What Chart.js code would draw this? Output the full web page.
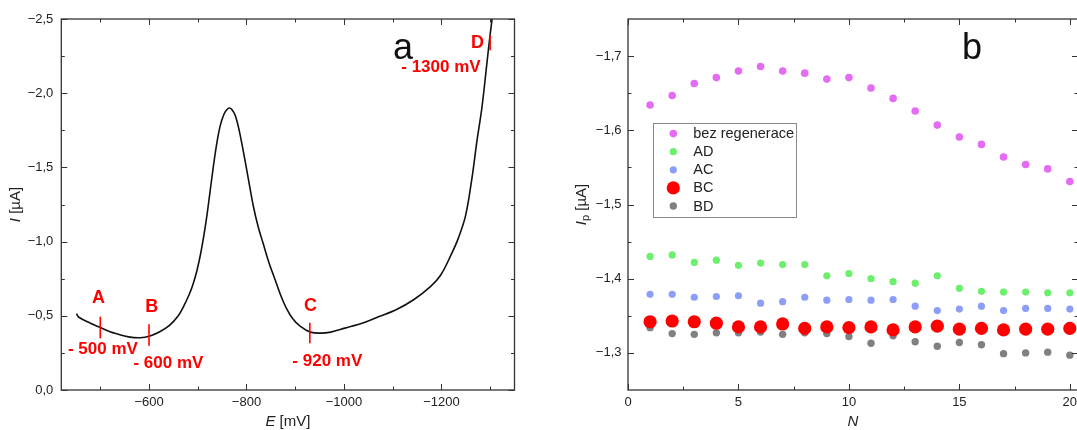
<!DOCTYPE html>
<html><head><meta charset="utf-8">
<script src="https://cdn.jsdelivr.net/npm/chart.js@4.4.1/dist/chart.umd.min.js"></script>
<style>
html,body{margin:0;padding:0;background:#fff;overflow:hidden;width:1077px;height:430px;position:relative;}
#ca{position:absolute;left:0;top:0;}
#cb{position:absolute;left:540px;top:0;}
</style></head><body>
<canvas id="ca" width="540" height="430" style="width:540px;height:430px"></canvas>
<canvas id="cb" width="560" height="430" style="width:560px;height:430px"></canvas>
<script>
// ---------- panel a : voltammogram ----------
const potentialMV = [-451,-456,-480,-500,-530,-558,-582,-602,-622,-642,-660,-672,-682,-690,-698,-706,-713,-719,-725,-731,-738,-746,-754,-760,-765,-770,-777,-785,-794,-804,-814,-824,-834,-846,-858,-870,-882,-895,-910,-931,-952,-973,-1002,-1037,-1072,-1107,-1143,-1178,-1199,-1220,-1235,-1250,-1263,-1273,-1283,-1291,-1298,-1304];
const currentUA   = [-0.515,-0.49,-0.45,-0.421,-0.382,-0.358,-0.352,-0.364,-0.392,-0.435,-0.50,-0.57,-0.64,-0.71,-0.80,-0.92,-1.05,-1.18,-1.33,-1.48,-1.64,-1.78,-1.86,-1.89,-1.90,-1.89,-1.85,-1.75,-1.60,-1.42,-1.24,-1.10,-0.99,-0.86,-0.75,-0.64,-0.55,-0.48,-0.43,-0.39,-0.383,-0.39,-0.417,-0.45,-0.495,-0.541,-0.608,-0.698,-0.777,-0.912,-1.025,-1.18,-1.435,-1.68,-1.90,-2.13,-2.34,-2.50];
const aXTicks = [-600,-800,-1000,-1200];
const aXTickLabels = ['\u2212600','\u2212800','\u22121000','\u22121200'];
const aXMinor = [-500,-700,-900,-1100,-1300];
const aYTicks = [-2.5,-2.0,-1.5,-1.0,-0.5,0];
const aYTickLabels = ['\u22122,5','\u22122,0','\u22121,5','\u22121,0','\u22120,5','0,0'];
const aYMinor = [-2.25,-1.75,-1.25,-0.75,-0.25];
const markLetters = ['A','B','C','D'];
const markPotentials = [-500,-600,-930,-1300];
const markCurrents = [-0.421,-0.371,-0.384,-2.34];
const markTexts = ['- 500 mV','- 600 mV','- 920 mV','- 1300 mV'];

// ---------- panel b : peak currents vs N ----------
const cycles = [1,2,3,4,5,6,7,8,9,10,11,12,13,14,15,16,17,18,19,20];
const seriesNames = ['bez regenerace','AD','AC','BC','BD'];
const bezRegenerace = [-1.634,-1.647,-1.663,-1.671,-1.680,-1.686,-1.680,-1.677,-1.669,-1.671,-1.657,-1.643,-1.626,-1.607,-1.591,-1.581,-1.564,-1.554,-1.548,-1.531];
const seriesAD = [-1.430,-1.432,-1.422,-1.425,-1.418,-1.421,-1.419,-1.419,-1.404,-1.407,-1.400,-1.396,-1.394,-1.404,-1.387,-1.383,-1.382,-1.382,-1.381,-1.381];
const seriesAC = [-1.379,-1.379,-1.375,-1.376,-1.377,-1.367,-1.369,-1.375,-1.371,-1.372,-1.371,-1.372,-1.363,-1.357,-1.359,-1.363,-1.357,-1.360,-1.360,-1.359];
const seriesBC = [-1.342,-1.343,-1.342,-1.340,-1.335,-1.335,-1.339,-1.333,-1.335,-1.334,-1.335,-1.331,-1.335,-1.336,-1.332,-1.333,-1.331,-1.332,-1.332,-1.333];
const seriesBD = [-1.334,-1.326,-1.325,-1.327,-1.327,-1.328,-1.325,-1.327,-1.326,-1.322,-1.313,-1.323,-1.315,-1.309,-1.314,-1.311,-1.299,-1.300,-1.301,-1.297];
const bXTicks = [0,5,10,15,20];
const bXTickLabels = ['0','5','10','15','20'];
const bXMinor = [2.5,7.5,12.5,17.5];
const bYTicks = [-1.7,-1.6,-1.5,-1.4,-1.3];
const bYTickLabels = ['\u22121,7','\u22121,6','\u22121,5','\u22121,4','\u22121,3'];
const bYMinor = [-1.65,-1.55,-1.45,-1.35];

// ---------- helpers ----------
const FAM = '"Liberation Sans", Arial, Helvetica, sans-serif';
const INK = '#222';
function drawRich(ctx, parts, cx, cy, rotate) {
  ctx.save();
  ctx.translate(cx, cy);
  if (rotate) ctx.rotate(-Math.PI / 2);
  let w = 0;
  parts.forEach(p => { ctx.font = p.font; p.w = ctx.measureText(p.t).width; w += p.w; });
  let x = -w / 2;
  ctx.textBaseline = 'middle'; ctx.textAlign = 'left'; ctx.fillStyle = INK;
  parts.forEach(p => { ctx.font = p.font; ctx.fillText(p.t, x, p.dy || 0); x += p.w; });
  ctx.restore();
}
function frameAndTicks(chart, xMaj, xMin, yMaj, yMin) {
  const {ctx, chartArea: a, scales: {x, y}} = chart;
  ctx.save();
  ctx.strokeStyle = '#333';
  const seg = (x1, y1, x2, y2) => { ctx.beginPath(); ctx.moveTo(x1, y1); ctx.lineTo(x2, y2); ctx.stroke(); };
  ctx.lineWidth = 1;
  const xt = (vals, len) => vals.forEach(v => { const p = Math.round(x.getPixelForValue(v)) + 0.5; seg(p, a.bottom, p, a.bottom - len); seg(p, a.top, p, a.top + len); });
  const yt = (vals, len) => vals.forEach(v => { const p = Math.round(y.getPixelForValue(v)) + 0.5; seg(a.left, p, a.left + len, p); seg(a.right, p, a.right - len, p); });
  xt(xMaj, 6); xt(xMin, 3.5); yt(yMaj, 6); yt(yMin, 3.5);
  ctx.lineWidth = 1.3;
  ctx.strokeRect(a.left, a.top, a.right - a.left, a.bottom - a.top);
  ctx.restore();
}
function tickCfg(vals, labels, pad) {
  return {
    afterBuildTicks: s => { s.ticks = vals.map(v => ({value: v})); },
    ticks: {font: {family: FAM, size: 13}, color: INK, padding: pad, autoSkip: false, maxRotation: 0,
            callback: (v, i) => labels[i]},
    grid: {display: false, drawTicks: false}, border: {display: false}
  };
}

// ---------- chart a ----------
const plugA = {
  id: 'decorA',
  afterDatasetsDraw(chart) {
    frameAndTicks(chart, aXTicks, aXMinor, aYTicks, aYMinor);
    const {ctx, scales: {x, y}} = chart;
    ctx.save();
    const off = [
      {half: 10.8, lx: -1.7, ly: -29.2, tx: 2.6, ty: 21.5},
      {half: 10.7, lx: 2.7, ly: -28.3, tx: 19.4, ty: 28.3},
      {half: 10.3, lx: 0.7, ly: -27.3, tx: 17.5, ty: 28.7},
      {half: 7.5, lx: -12.7, ly: 0, tx: -49.2, ty: 24.8}
    ];
    ctx.strokeStyle = '#ff0000'; ctx.fillStyle = '#ff0000'; ctx.lineWidth = 1.6;
    ctx.textAlign = 'center'; ctx.textBaseline = 'middle';
    markPotentials.forEach((e, k) => {
      const px = x.getPixelForValue(e), py = y.getPixelForValue(markCurrents[k]);
      const o = off[k];
      ctx.beginPath(); ctx.moveTo(px, py - o.half); ctx.lineTo(px, py + o.half); ctx.stroke();
      ctx.font = 'bold 18px ' + FAM; ctx.fillText(markLetters[k], px + o.lx, py + o.ly);
      ctx.font = 'bold 17px ' + FAM; ctx.fillText(markTexts[k], px + o.tx, py + o.ty);
    });
    ctx.restore();
    ctx.save(); ctx.fillStyle = '#111'; ctx.font = '36px ' + FAM; ctx.textAlign = 'center'; ctx.textBaseline = 'alphabetic';
    ctx.fillText('a', 403, 59); ctx.restore();
    const a = chart.chartArea;
    drawRich(ctx, [{t: 'E', font: 'italic 15px ' + FAM}, {t: ' [mV]', font: '15px ' + FAM}], (a.left + a.right) / 2, 422, false);
    drawRich(ctx, [{t: 'I', font: 'italic 15px ' + FAM}, {t: ' [\u00b5A]', font: '15px ' + FAM}], 16, (a.top + a.bottom) / 2, true);
  }
};
new Chart(document.getElementById('ca'), {
  type: 'line',
  data: {datasets: [{
    data: potentialMV.map((e, i) => ({x: e, y: currentUA[i]})),
    borderColor: '#111', borderWidth: 1.6, pointRadius: 0, tension: 0.35, fill: false
  }]},
  options: {
    responsive: false, animation: false, events: [],
    layout: {padding: {left: 0, top: 19, right: 25.5, bottom: 0}},
    plugins: {legend: {display: false}, tooltip: {enabled: false}},
    scales: {
      x: Object.assign({type: 'linear', reverse: true, min: -1350, max: -420, afterFit: s => { s.height = 40; }}, tickCfg(aXTicks, aXTickLabels, 5)),
      y: Object.assign({type: 'linear', reverse: true, min: -2.5, max: 0, afterFit: s => { s.width = 61.3; }}, tickCfg(aYTicks, aYTickLabels, 8))
    }
  },
  plugins: [plugA]
});

// ---------- chart b ----------
const colorsB = ['#e46cf5', '#6cef6c', '#8c9ef9', '#ff0000', '#808080'];
const radiiB = [3.8, 3.6, 3.6, 6.6, 3.7];
const valuesB = [bezRegenerace, seriesAD, seriesAC, seriesBC, seriesBD];
const plugB = {
  id: 'decorB',
  afterDatasetsDraw(chart) {
    frameAndTicks(chart, bXTicks, bXMinor, bYTicks, bYMinor);
    const {ctx} = chart;
    ctx.save();
    ctx.fillStyle = '#fff'; ctx.strokeStyle = '#8a8a8a'; ctx.lineWidth = 1;
    ctx.fillRect(113.5, 123.5, 143, 94); ctx.strokeRect(113.5, 123.5, 143, 94);
    chart.data.datasets.forEach((ds, k) => {
      const cy = 133.6 + k * 18.1;
      ctx.fillStyle = ds.backgroundColor;
      ctx.beginPath(); ctx.arc(133.3, cy, ds.pointRadius, 0, Math.PI * 2); ctx.fill();
      ctx.fillStyle = INK; ctx.font = '14.5px ' + FAM; ctx.textAlign = 'left'; ctx.textBaseline = 'middle';
      ctx.fillText(ds.label, 153.3, cy + 0.5);
    });
    ctx.restore();
    ctx.save(); ctx.fillStyle = '#111'; ctx.font = '36px ' + FAM; ctx.textAlign = 'center'; ctx.textBaseline = 'alphabetic';
    ctx.fillText('b', 432, 59); ctx.restore();
    const a = chart.chartArea;
    drawRich(ctx, [{t: 'N', font: 'italic 15px ' + FAM}], (a.left + a.right) / 2, 422, false);
    drawRich(ctx, [{t: 'I', font: 'italic 15px ' + FAM}, {t: 'p', font: '11px ' + FAM, dy: 4}, {t: ' [\u00b5A]', font: '15px ' + FAM}], 42, (a.top + a.bottom) / 2, true);
  }
};
new Chart(document.getElementById('cb'), {
  type: 'scatter',
  data: {datasets: seriesNames.map((name, k) => ({
    label: name,
    data: cycles.map((n, i) => ({x: n, y: valuesB[k][i]})),
    backgroundColor: colorsB[k], borderWidth: 0, pointRadius: radiiB[k], pointHoverRadius: radiiB[k], clip: false
  }))},
  options: {
    responsive: false, animation: false, events: [],
    layout: {padding: {left: 0, top: 19, right: 22, bottom: 0}},
    plugins: {legend: {display: false}, tooltip: {enabled: false}},
    scales: {
      x: Object.assign({type: 'linear', min: 0, max: 20.37, afterFit: s => { s.height = 40; }}, tickCfg(bXTicks, bXTickLabels, 5)),
      y: Object.assign({type: 'linear', reverse: true, min: -1.75, max: -1.25, afterFit: s => { s.width = 88; }}, tickCfg(bYTicks, bYTickLabels, 6.5))
    }
  },
  plugins: [plugB]
});
</script>
</body></html>
